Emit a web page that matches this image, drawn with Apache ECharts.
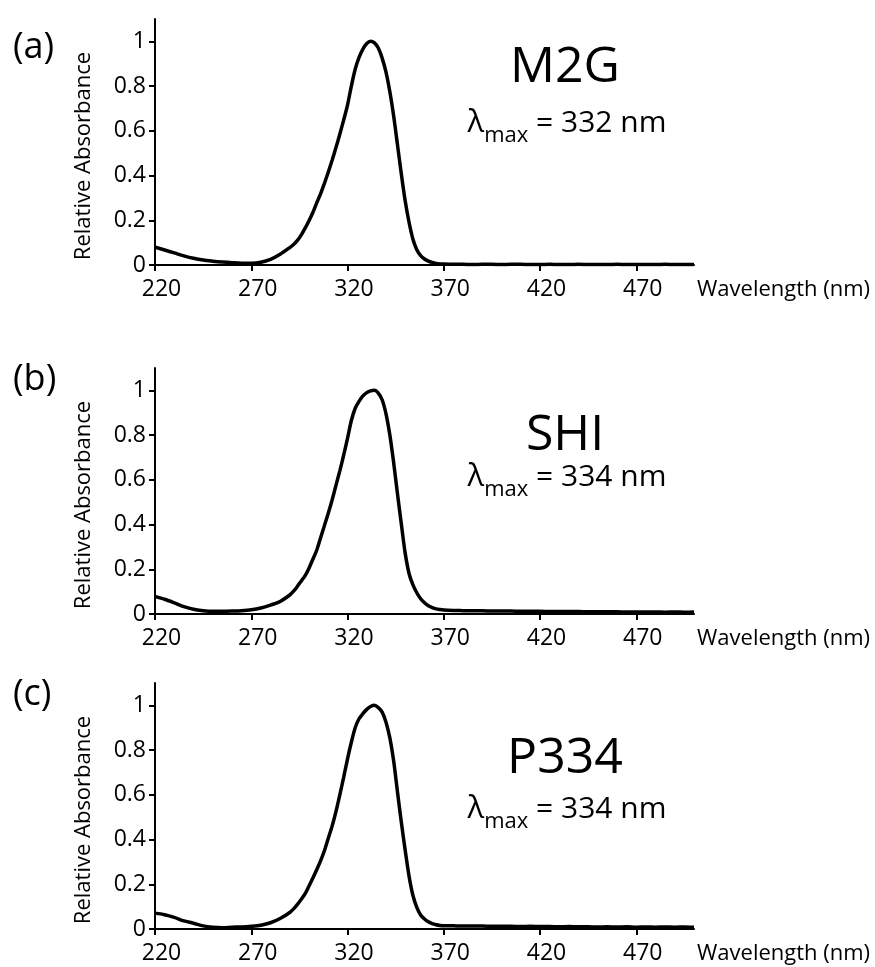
<!DOCTYPE html>
<html>
<head>
<meta charset="utf-8">
<script src="https://cdn.jsdelivr.net/npm/echarts@6/dist/echarts.min.js"></script>
<style>
  html, body { margin: 0; padding: 0; background: #fff; }
  #chart { width: 875px; height: 967px; }
</style>
</head>
<body>
<div id="chart"></div>
<script>
// wavelength (nm), finer step around the absorbance peak
const wavelengths = [
  220,225,230,235,240,245,250,255,260,265,270,275,280,285,
  290,292,294,296,298,300,302,304,306,308,310,312,314,316,318,320,322,324,326,328,
  330,332,334,336,338,340,342,344,346,348,350,352,354,356,358,360,362,364,366,368,370,
  375,380,385,390,395,400,405,410,415,420,425,430,435,440,445,450,455,460,465,470,
  475,480,485,490,495,500
]

const m2g = [
  0.080,0.067,0.054,0.041,0.030,0.022,0.017,0.013,0.010,0.008,0.008,0.012,0.025,0.048,
  0.078,0.092,0.110,0.135,0.165,0.198,0.235,0.278,0.318,0.365,0.415,0.468,0.525,0.585,0.648,0.715,0.800,0.875,0.928,0.965,
  0.990,1.000,0.993,0.970,0.925,0.862,0.775,0.665,0.535,0.405,0.285,0.190,0.115,0.068,0.042,0.027,0.017,0.011,0.007,0.005,0.004,
  0.003,0.003,0.002,0.003,0.003,0.002,0.003,0.003,0.002,0.002,0.003,0.002,0.002,0.003,0.002,0.002,0.002,0.003,0.002,0.002,
  0.002,0.002,0.003,0.002,0.002,0.002
]

const shi = [
  0.079,0.066,0.050,0.033,0.021,0.015,0.012,0.012,0.013,0.015,0.019,0.027,0.040,0.056,
  0.085,0.102,0.124,0.148,0.172,0.205,0.245,0.285,0.340,0.395,0.450,0.510,0.575,0.640,0.710,0.785,0.865,0.920,0.951,0.975,
  0.990,0.998,1.000,0.988,0.958,0.895,0.800,0.675,0.535,0.400,0.270,0.180,0.130,0.095,0.068,0.050,0.037,0.029,0.023,0.020,0.018,
  0.016,0.015,0.014,0.014,0.013,0.013,0.013,0.012,0.012,0.012,0.011,0.011,0.011,0.011,0.010,0.010,0.010,0.010,0.009,0.009,
  0.009,0.009,0.008,0.009,0.008,0.009
]

const p334 = [
  0.071,0.064,0.052,0.036,0.026,0.014,0.008,0.006,0.008,0.009,0.012,0.017,0.028,0.047,
  0.074,0.090,0.110,0.133,0.158,0.192,0.228,0.265,0.305,0.350,0.405,0.460,0.525,0.600,0.678,0.760,0.835,0.900,0.940,0.963,
  0.982,0.995,1.000,0.990,0.970,0.925,0.855,0.750,0.610,0.475,0.350,0.235,0.150,0.097,0.063,0.045,0.032,0.024,0.019,0.016,0.015,
  0.014,0.013,0.013,0.013,0.012,0.012,0.012,0.011,0.012,0.011,0.011,0.010,0.011,0.010,0.010,0.009,0.010,0.009,0.010,0.008,
  0.009,0.008,0.009,0.008,0.009,0.008
]

const xTicks = [220, 270, 320, 370, 420, 470]
const yTicks = [0, 0.2, 0.4, 0.6, 0.8, 1]

const panelLetters = ['(a)', '(b)', '(c)']
const compounds = ['M2G', 'SHI', 'P334']
const lambdaMax = [332, 334, 334]

const FONT = '"Open Sans", "Noto Sans", sans-serif'

// layout of each panel (px)
const gridTops = [19, 368, 683]
const letterY = [48, 380, 695]
const nameY = [68, 436, 759]
const lambdaY = [123, 477, 809]

const chart = echarts.init(document.getElementById('chart'))

const grids = [], xAxes = [], yAxes = [], series = [], graphics = []
const allData = [m2g, shi, p334]

allData.forEach((vals, i) => {
  grids.push({ left: 155, top: gridTops[i], width: 539, height: 246 })
  xAxes.push({
    type: 'value', gridIndex: i, min: 220, max: 500,
    name: 'Wavelength (nm)', nameLocation: 'end', nameGap: 3,
    nameTextStyle: { fontFamily: FONT, fontSize: 22, color: '#000', align: 'left', verticalAlign: 'top', padding: [14, 0, 0, 0] },
    axisLine: { onZero: false, lineStyle: { color: '#000', width: 2 } },
    axisTick: { show: true, length: 6, lineStyle: { color: '#000', width: 2 }, customValues: xTicks },
    axisLabel: { fontFamily: FONT, fontSize: 23, color: '#000', margin: 13, padding: [0, 0, 0, 13], customValues: xTicks },
    splitLine: { show: false }
  })
  yAxes.push({
    type: 'value', gridIndex: i, min: 0, max: 1.1,
    name: 'Relative Absorbance', nameLocation: 'middle', nameGap: 60, nameRotate: 90,
    nameTextStyle: { fontFamily: FONT, fontSize: 22, color: '#000', padding: [0, 28, 0, 0] },
    axisLine: { show: true, lineStyle: { color: '#000', width: 2 } },
    axisTick: { show: true, length: 6, lineStyle: { color: '#000', width: 2 }, customValues: yTicks },
    axisLabel: { fontFamily: FONT, fontSize: 23, color: '#000', margin: 9, padding: [3, 0, 0, 0], customValues: yTicks },
    splitLine: { show: false }
  })
  series.push({
    type: 'line', xAxisIndex: i, yAxisIndex: i,
    data: wavelengths.map((w, k) => [w, vals[k]]),
    showSymbol: false, smooth: 0.3,
    lineStyle: { color: '#000', width: 3.5 },
    silent: true
  })
  graphics.push({
    type: 'text', x: 13, y: letterY[i],
    style: { text: panelLetters[i], font: '36px ' + FONT, fill: '#000', verticalAlign: 'middle' }
  })
  graphics.push({
    type: 'text', x: 565, y: nameY[i],
    style: { text: compounds[i], font: '50px ' + FONT, fill: '#000', align: 'center', verticalAlign: 'middle' }
  })
  graphics.push({
    type: 'text', x: 567, y: lambdaY[i],
    style: {
      text: '{l|λ}{s|max}{n| = ' + lambdaMax[i] + ' nm}',
      align: 'center', verticalAlign: 'middle',
      rich: {
        l: { fontFamily: FONT, fontSize: 31, fill: '#000' },
        s: { fontFamily: FONT, fontSize: 22, fill: '#000', padding: [26, 0, 0, 0] },
        n: { fontFamily: FONT, fontSize: 30, fill: '#000' }
      }
    }
  })
})

chart.setOption({
  backgroundColor: '#fff',
  animation: false,
  grid: grids,
  xAxis: xAxes,
  yAxis: yAxes,
  series: series,
  graphic: graphics
})
</script>
</body>
</html>
